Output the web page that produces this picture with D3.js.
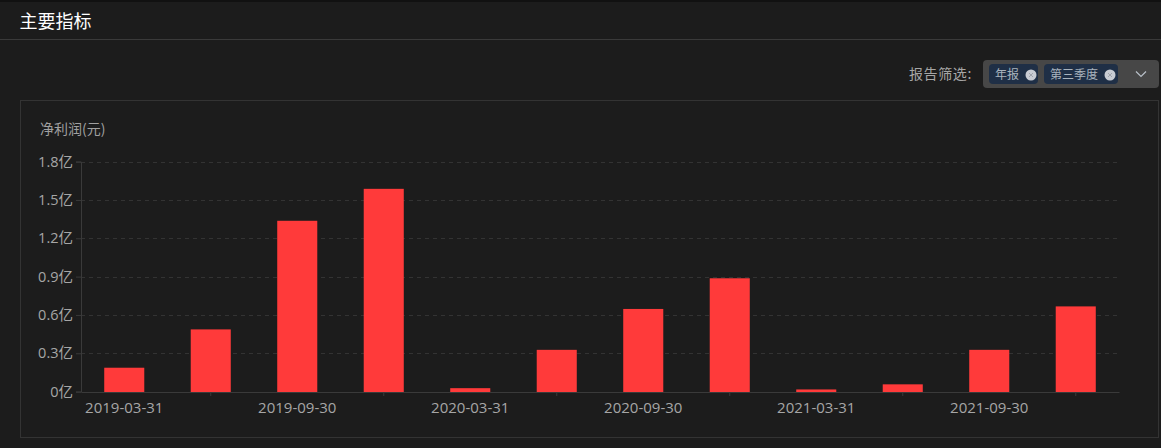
<!DOCTYPE html>
<html><head><meta charset="utf-8">
<script src="https://cdn.jsdelivr.net/npm/d3@7/dist/d3.min.js"></script>
<style>
html,body{margin:0;padding:0;background:#1c1c1c;overflow:hidden}
svg{display:block}
text{font-family:"Open Sans","Noto Sans CJK SC",sans-serif}
.cjk{font-family:"Noto Sans CJK SC",sans-serif}
</style></head><body><svg id="c" width="1161" height="448"></svg>
<script>
const categories=["2019-03-31","2019-06-30","2019-09-30","2019-12-31","2020-03-31","2020-06-30","2020-09-30","2020-12-31","2021-03-31","2021-06-30","2021-09-30","2021-12-31"];
const values=[0.19,0.49,1.34,1.59,0.03,0.33,0.65,0.89,0.02,0.06,0.33,0.67];
const yTicks=[0,0.3,0.6,0.9,1.2,1.5,1.8];
const filters=["年报","第三季度"];
const svg=d3.select("#c");
const W=1161;
svg.append("rect").attr("width",W).attr("height",2).attr("fill","#111");
svg.append("text").attr("class","cjk").attr("x",19.5).attr("y",28).attr("font-size",18).attr("fill","#fff").text("主要指标");
svg.append("line").attr("x1",0).attr("x2",W).attr("y1",39.5).attr("y2",39.5).attr("stroke","#3a3a3a");
svg.append("rect").attr("x",20.5).attr("y",100.5).attr("width",1138).attr("height",337).attr("fill","none").attr("stroke","#333");
svg.append("text").attr("class","cjk").attr("x",909).attr("y",79).attr("letter-spacing",0.6).attr("font-size",14).attr("fill","#a6a6a6").text("报告筛选:");
svg.append("rect").attr("x",983).attr("y",60).attr("width",176).attr("height",28).attr("rx",4).attr("fill","#474747");
const chipX=[989,1044],chipW=[49,74];
filters.forEach((f,i)=>{
  svg.append("rect").attr("x",chipX[i]).attr("y",64).attr("width",chipW[i]).attr("height",20).attr("rx",4).attr("fill","#1f2f46");
  svg.append("text").attr("class","cjk").attr("x",chipX[i]+6).attr("y",79).attr("font-size",12).attr("fill","#a9b3bd").text(f);
  const cx=i===0?1031:1110;
  svg.append("circle").attr("cx",cx).attr("cy",75).attr("r",5.5).attr("fill","#c9ccd3");
  svg.append("path").attr("d",`M${cx-2},73L${cx+2},77M${cx+2},73L${cx-2},77`).attr("stroke","#a0a4ac").attr("stroke-width",1);
});
svg.append("path").attr("d","M1136,71.5L1141,76.5L1146,71.5").attr("fill","none").attr("stroke","#b8c0c8").attr("stroke-width",1.2);
svg.append("text").attr("class","cjk").attr("x",40).attr("y",134).attr("font-size",14).attr("fill","#a0a0a0").text("净利润(元)");

const x=d3.scaleBand().domain(categories).range([81,1119]).paddingInner(0.537).paddingOuter(0.2685);
const y=d3.scaleLinear().domain([0,1.8]).range([392,162]);
// grid
svg.append("g").selectAll("line").data(yTicks.slice(1)).join("line")
 .attr("x1",81).attr("x2",1118).attr("y1",d=>Math.floor(y(d)+0.01)+.5).attr("y2",d=>Math.floor(y(d)+0.01)+.5)
 .attr("stroke","#333").attr("stroke-dasharray","4,4");
// bars
svg.append("g").selectAll("rect").data(values).join("rect")
 .attr("x",(d,i)=>x(categories[i])).attr("width",x.bandwidth())
 .attr("y",d=>y(d)).attr("height",d=>y(0)-y(d)).attr("fill","#ff3a3a");
// y axis
const ya=d3.axisLeft(y).tickValues(yTicks).tickSize(5).tickPadding(3).tickFormat(d=>d+"亿");
const gy=svg.append("g").attr("transform","translate(81,-0.4)").call(ya);
gy.selectAll("line,path").attr("stroke","#3a3a3a");
gy.selectAll("text").attr("fill","#a6a6a6").attr("font-size",14.5);
// x axis
const labelled=categories.filter((c,i)=>i%2===0);
const tickOnly=categories.filter((c,i)=>i%2===1);
const xa=d3.axisBottom(x).tickValues(categories).tickSize(0).tickPadding(10).tickFormat(d=>labelled.includes(d)?d:"");
const gx=svg.append("g").attr("transform","translate(0,392)").call(xa);
gx.select("path").attr("stroke","#3a3a3a");
gx.selectAll(".tick").filter(d=>tickOnly.includes(d)).select("line").attr("y2",4).attr("stroke","#3a3a3a");
gx.selectAll("text").attr("fill","#a6a6a6").attr("font-size",15);
</script></body></html>
